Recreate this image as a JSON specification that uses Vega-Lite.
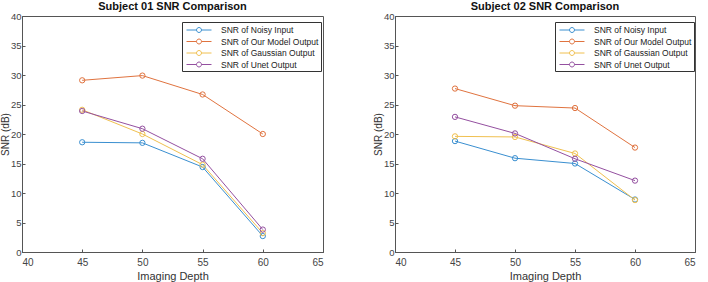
{
  "$schema": "https://vega.github.io/schema/vega-lite/v6.json",
  "background": "white",
  "padding": {"left": -1, "top": 0, "right": 0, "bottom": 0},
  "datasets": {
    "snr": [
      {"subject": "01", "depth": 45, "series": "SNR of Noisy Input", "snr": 18.6},
      {"subject": "01", "depth": 50, "series": "SNR of Noisy Input", "snr": 18.5},
      {"subject": "01", "depth": 55, "series": "SNR of Noisy Input", "snr": 14.4},
      {"subject": "01", "depth": 60, "series": "SNR of Noisy Input", "snr": 2.7},
      {"subject": "01", "depth": 45, "series": "SNR of Our Model Output", "snr": 29.1},
      {"subject": "01", "depth": 50, "series": "SNR of Our Model Output", "snr": 29.9},
      {"subject": "01", "depth": 55, "series": "SNR of Our Model Output", "snr": 26.7},
      {"subject": "01", "depth": 60, "series": "SNR of Our Model Output", "snr": 20.0},
      {"subject": "01", "depth": 45, "series": "SNR of Gaussian Output", "snr": 24.1},
      {"subject": "01", "depth": 50, "series": "SNR of Gaussian Output", "snr": 20.0},
      {"subject": "01", "depth": 55, "series": "SNR of Gaussian Output", "snr": 14.8},
      {"subject": "01", "depth": 60, "series": "SNR of Gaussian Output", "snr": 3.2},
      {"subject": "01", "depth": 45, "series": "SNR of Unet Output", "snr": 23.9},
      {"subject": "01", "depth": 50, "series": "SNR of Unet Output", "snr": 20.9},
      {"subject": "01", "depth": 55, "series": "SNR of Unet Output", "snr": 15.8},
      {"subject": "01", "depth": 60, "series": "SNR of Unet Output", "snr": 3.8},
      {"subject": "02", "depth": 45, "series": "SNR of Noisy Input", "snr": 18.8},
      {"subject": "02", "depth": 50, "series": "SNR of Noisy Input", "snr": 15.9},
      {"subject": "02", "depth": 55, "series": "SNR of Noisy Input", "snr": 15.0},
      {"subject": "02", "depth": 60, "series": "SNR of Noisy Input", "snr": 8.9},
      {"subject": "02", "depth": 45, "series": "SNR of Our Model Output", "snr": 27.7},
      {"subject": "02", "depth": 50, "series": "SNR of Our Model Output", "snr": 24.8},
      {"subject": "02", "depth": 55, "series": "SNR of Our Model Output", "snr": 24.4},
      {"subject": "02", "depth": 60, "series": "SNR of Our Model Output", "snr": 17.7},
      {"subject": "02", "depth": 45, "series": "SNR of Gaussian Output", "snr": 19.6},
      {"subject": "02", "depth": 50, "series": "SNR of Gaussian Output", "snr": 19.5},
      {"subject": "02", "depth": 55, "series": "SNR of Gaussian Output", "snr": 16.7},
      {"subject": "02", "depth": 60, "series": "SNR of Gaussian Output", "snr": 8.8},
      {"subject": "02", "depth": 45, "series": "SNR of Unet Output", "snr": 22.9},
      {"subject": "02", "depth": 50, "series": "SNR of Unet Output", "snr": 20.1},
      {"subject": "02", "depth": 55, "series": "SNR of Unet Output", "snr": 15.8},
      {"subject": "02", "depth": 60, "series": "SNR of Unet Output", "snr": 12.1}
    ]
  },
  "config": {
    "font": "Liberation Sans",
    "view": {"stroke": "#555555", "strokeWidth": 1},
    "title": {"fontSize": 11, "fontWeight": "bold", "color": "#111111", "offset": -1},
    "axis": {
      "domainColor": "#555555",
      "tickColor": "#555555",
      "labelColor": "#444444",
      "titleColor": "#333333",
      "labelFontSize": 10,
      "titleFontSize": 11,
      "titleFontWeight": "normal",
      "grid": false,
      "tickSize": -3
    },
    "axisX": {"labelPadding": 8, "titlePadding": 3},
    "axisY": {"labelPadding": 4, "titlePadding": 0, "titleFontSize": 10, "labelFontSize": 9.5},
    "legend": {
      "title": null, "orient": "none", "legendX": 160, "legendY": 6,
      "strokeColor": "#333333", "fillColor": "white", "padding": 2,
      "labelFontSize": 8.5, "labelColor": "#222222", "rowPadding": 0.5,
      "labelOffset": 16, "symbolOffset": 9,
      "symbolType": "M-2.27,0H-0.45M0.45,0H2.27M0.45,0A0.45,0.45 0 1,1 -0.45,0A0.45,0.45 0 1,1 0.45,0",
      "symbolSize": 121, "symbolStrokeWidth": 1, "symbolFillColor": "transparent"
    },
    "concat": {"spacing": 48}
  },
  "resolve": {"legend": {"color": "independent"}},
  "hconcat": [
    {
      "title": "Subject 01 SNR Comparison",
      "width": 301,
      "height": 236,
      "data": {"name": "snr"},
      "transform": [{"filter": "datum.subject === '01'"}],
      "encoding": {
        "x": {"field": "depth", "type": "quantitative", "title": "Imaging Depth",
              "scale": {"domain": [40, 65], "nice": false},
              "axis": {"values": [40, 45, 50, 55, 60, 65]}},
        "y": {"field": "snr", "type": "quantitative", "title": "SNR (dB)",
              "scale": {"domain": [0, 40], "nice": false},
              "axis": {"values": [0, 5, 10, 15, 20, 25, 30, 35, 40]}},
        "color": {"field": "series", "type": "nominal",
                  "scale": {"domain": ["SNR of Noisy Input", "SNR of Our Model Output", "SNR of Gaussian Output", "SNR of Unet Output"],
                            "range": ["#3a8fd0", "#e0733f", "#f0c050", "#9450a0"]}}
      },
      "layer": [
        {"mark": {"type": "line", "strokeWidth": 1}},
        {"mark": {"type": "point", "filled": false, "size": 28, "strokeWidth": 1, "opacity": 1}}
      ]
    },
    {
      "title": "Subject 02 SNR Comparison",
      "width": 300,
      "height": 236,
      "data": {"name": "snr"},
      "transform": [{"filter": "datum.subject === '02'"}],
      "encoding": {
        "x": {"field": "depth", "type": "quantitative", "title": "Imaging Depth",
              "scale": {"domain": [40, 65], "nice": false},
              "axis": {"values": [40, 45, 50, 55, 60, 65]}},
        "y": {"field": "snr", "type": "quantitative", "title": "SNR (dB)",
              "scale": {"domain": [0, 40], "nice": false},
              "axis": {"values": [0, 5, 10, 15, 20, 25, 30, 35, 40]}},
        "color": {"field": "series", "type": "nominal",
                  "scale": {"domain": ["SNR of Noisy Input", "SNR of Our Model Output", "SNR of Gaussian Output", "SNR of Unet Output"],
                            "range": ["#3a8fd0", "#e0733f", "#f0c050", "#9450a0"]}}
      },
      "layer": [
        {"mark": {"type": "line", "strokeWidth": 1}},
        {"mark": {"type": "point", "filled": false, "size": 28, "strokeWidth": 1, "opacity": 1}}
      ]
    }
  ]
}
